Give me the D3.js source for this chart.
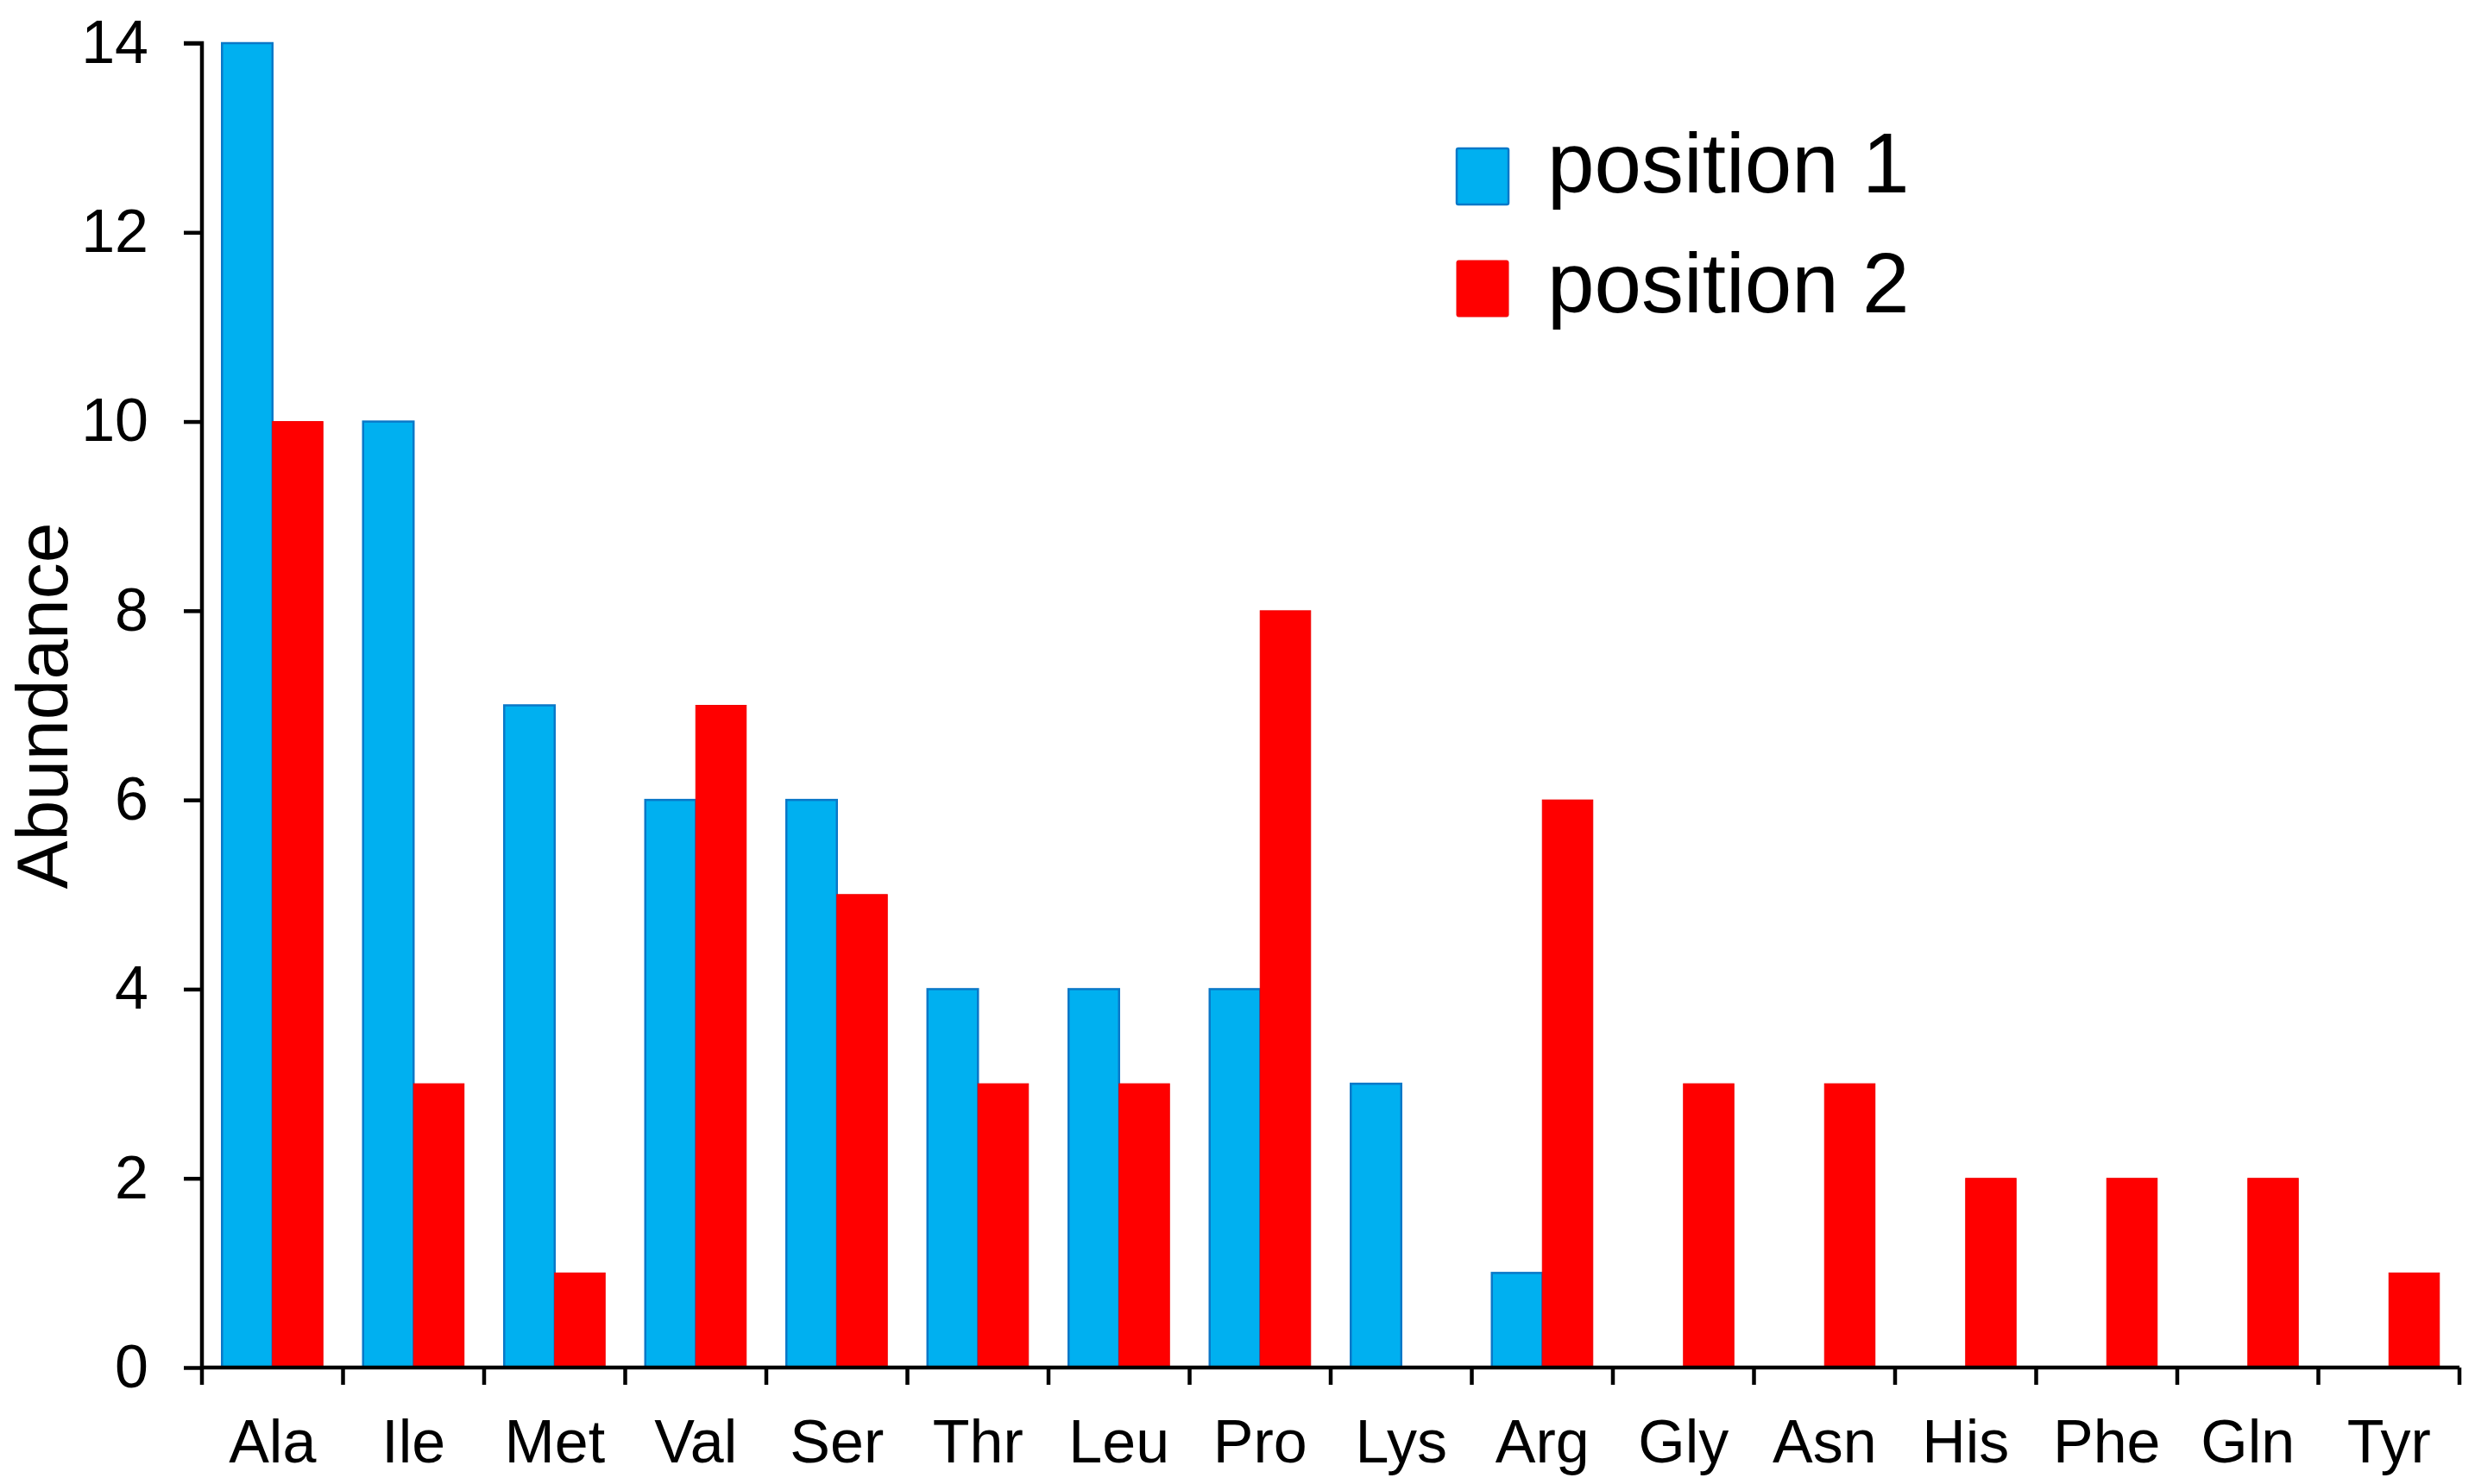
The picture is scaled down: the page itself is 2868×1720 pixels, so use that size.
<!DOCTYPE html>
<html>
<head>
<meta charset="utf-8">
<script src="https://cdn.jsdelivr.net/npm/d3@7"></script>
<style>
  html, body { margin: 0; padding: 0; background: #fff; }
  svg { display: block; font-family: "Liberation Sans", Arial, sans-serif; }
</style>
</head>
<body>
<svg id="chart" width="2868" height="1720"></svg>
<script>
const categories = ["Ala","Ile","Met","Val","Ser","Thr","Leu","Pro","Lys","Arg","Gly","Asn","His","Phe","Gln","Tyr"];
const position1 = [14,10,7,6,6,4,4,4,3,1,0,0,0,0,0,0];
const position2 = [10,3,1,7,5,3,3,8,0,6,3,3,2,2,2,1];
const seriesNames = ["position 1","position 2"];
const seriesColors = ["#00B0F0","#FF0000"];
const seriesStroke = ["#0A78C8","#F00000"];
const yTicks = [0,2,4,6,8,10,12,14];

(function () {
const svg = d3.select("#chart");
const mLeft = 234, mRight = 2850, mTop = 50, mBottom = 1585;

const x = d3.scaleBand().domain(categories).range([mLeft, mRight]).padding(0);
const inner = d3.scaleBand().domain(seriesNames).range([0, x.bandwidth()]).paddingInner(0).paddingOuter(0.3975);
const y = d3.scaleLinear().domain([0, 14]).range([mBottom, mTop]);

const series = [position1, position2];

// bars
series.forEach((vals, si) => {
  svg.append("g")
    .selectAll("rect")
    .data(categories.map((c, i) => ({c, v: vals[i]})).filter(d => d.v > 0))
    .join("rect")
    .attr("x", d => x(d.c) + inner(seriesNames[si]))
    .attr("width", inner.bandwidth())
    .attr("y", d => y(d.v))
    .attr("height", d => y(0) - y(d.v))
    .attr("fill", seriesColors[si])
    .attr("stroke", seriesStroke[si])
    .attr("stroke-width", si === 0 ? 2.5 : 1);
});

// y axis
const yAxis = svg.append("g")
  .attr("transform", `translate(${mLeft},0)`)
  .call(d3.axisLeft(y).tickValues(yTicks).tickSize(21).tickPadding(41).tickFormat(d3.format("d")));
yAxis.select(".domain").attr("stroke", "#000").attr("stroke-width", 4.5)
  .attr("d", `M-21,${mTop}H0V${mBottom}`);
yAxis.selectAll(".tick line").attr("stroke", "#000").attr("stroke-width", 4.5);
yAxis.selectAll(".tick text").attr("font-size", 70).attr("fill", "#000")
  .attr("font-family", "'Liberation Sans', Arial, sans-serif");

// x axis
const boundaries = categories.map(c => x(c)).concat([mRight]);
const xAxis = svg.append("g")
  .attr("transform", `translate(0,${mBottom})`)
  .call(d3.axisBottom(x).tickSize(0).tickPadding(60));
xAxis.select(".domain").attr("stroke", "#000").attr("stroke-width", 4.5)
  .attr("d", `M${mLeft},0H${mRight}`);
xAxis.selectAll(".tick text").attr("font-size", 70).attr("fill", "#000")
  .attr("font-family", "'Liberation Sans', Arial, sans-serif");
xAxis.selectAll("line.bound")
  .data(boundaries)
  .join("line")
  .attr("class", "bound")
  .attr("x1", d => d).attr("x2", d => d)
  .attr("y1", 0).attr("y2", 20)
  .attr("stroke", "#000").attr("stroke-width", 4.5);

// y title
svg.append("text")
  .attr("transform", `translate(78,818) rotate(-90)`)
  .attr("text-anchor", "middle")
  .attr("font-size", 84)
  .attr("fill", "#000")
  .text("Abundance");

// legend
const legendSquareY = [172, 302];
const legendTextY = [223, 362];
seriesNames.forEach((name, i) => {
  const g = svg.append("g");
  g.append("rect").attr("x", 1688).attr("y", legendSquareY[i]).attr("width", 60).attr("height", 65)
    .attr("rx", 2)
    .attr("fill", seriesColors[i]).attr("stroke", seriesStroke[i]).attr("stroke-width", i === 0 ? 2.5 : 1);
  g.append("text").attr("x", 1793).attr("y", legendTextY[i])
    .attr("font-size", 98).attr("fill", "#000").text(name);
});
})();
</script>
</body>
</html>
